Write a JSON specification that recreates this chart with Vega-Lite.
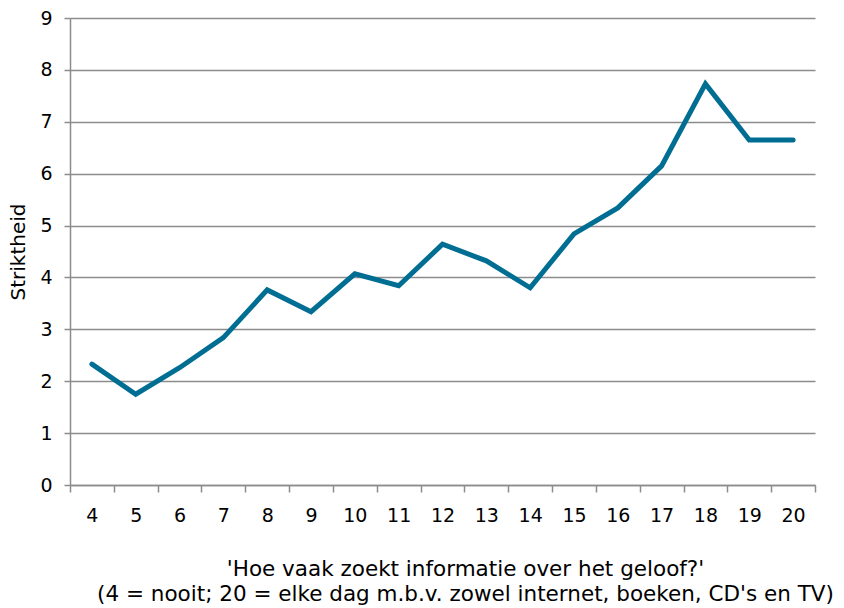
{
  "$schema": "https://vega.github.io/schema/vega-lite/v6.json",
  "autosize": {"type": "none"},
  "width": 745,
  "height": 467,
  "padding": {"left": 70, "top": 18, "right": 29, "bottom": 123},
  "background": "white",
  "config": {
    "view": {"stroke": null},
    "font": "DejaVu Sans"
  },
  "data": {
    "values": [
      {"x": 4, "y": 2.33},
      {"x": 5, "y": 1.75},
      {"x": 6, "y": 2.26},
      {"x": 7, "y": 2.84},
      {"x": 8, "y": 3.76},
      {"x": 9, "y": 3.34},
      {"x": 10, "y": 4.07},
      {"x": 11, "y": 3.84},
      {"x": 12, "y": 4.64},
      {"x": 13, "y": 4.32},
      {"x": 14, "y": 3.8},
      {"x": 15, "y": 4.84},
      {"x": 16, "y": 5.34},
      {"x": 17, "y": 6.15},
      {"x": 18, "y": 7.73},
      {"x": 19, "y": 6.65},
      {"x": 20, "y": 6.65}
    ]
  },
  "mark": {"type": "line", "color": "#006e93", "strokeWidth": 5, "strokeJoin": "miter", "strokeCap": "round"},
  "encoding": {
    "x": {
      "field": "x",
      "type": "ordinal",
      "scale": {"type": "band", "paddingInner": 0, "paddingOuter": 0},
      "axis": {
        "title": ["'Hoe vaak zoekt informatie over het geloof?'", "(4 = nooit; 20 = elke dag m.b.v. zowel internet, boeken, CD's en TV)"],
        "titleFontSize": 21.5,
        "titleFontWeight": "normal",
        "titleColor": "#000",
        "titleX": 395,
        "titleY": 90,
        "titleAlign": "center",
        "titleAnchor": null,
        "titleBaseline": "alphabetic",
        "titleLineHeight": 25,
        "labelAngle": 0,
        "labelFontSize": 19,
        "labelColor": "#000",
        "labelPadding": 14,
        "labelOverlap": false,
        "tickBand": "extent",
        "tickSize": 7,
        "tickColor": "#8c8c8c",
        "tickWidth": 1.5,
        "domainColor": "#8c8c8c",
        "domainWidth": 1.5,
        "grid": false
      }
    },
    "y": {
      "field": "y",
      "type": "quantitative",
      "scale": {"domain": [0, 9], "nice": false},
      "axis": {
        "title": "Striktheid",
        "titleFontSize": 20,
        "titleFontWeight": "normal",
        "titleColor": "#000",
        "titlePadding": 11,
        "values": [0,1,2,3,4,5,6,7,8,9],
        "labelOverlap": false,
        "labelFontSize": 19,
        "labelColor": "#000",
        "labelPadding": 12,
        "tickSize": 6,
        "tickColor": "#8c8c8c",
        "tickWidth": 1.5,
        "domainColor": "#8c8c8c",
        "domainWidth": 1.5,
        "gridColor": "#8c8c8c",
        "gridWidth": 1.5,
        "gridOpacity": 1
      }
    }
  }
}
